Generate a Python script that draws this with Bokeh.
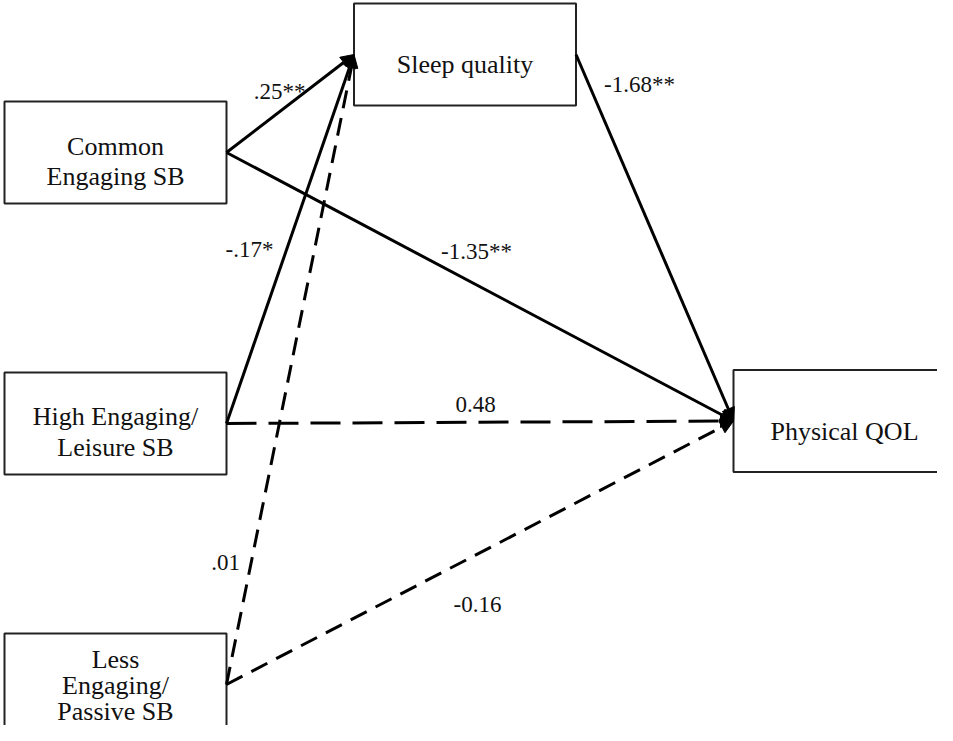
from bokeh.plotting import figure
from bokeh.models import Range1d, Arrow, NormalHead
from bokeh.core.properties import value
from bokeh.embed import file_html
from bokeh.resources import INLINE

# ---- data ----
node_names = ["Common\nEngaging SB", "High Engaging/\nLeisure SB",
              "Less\nEngaging/\nPassive SB", "Sleep quality", "Physical QOL"]
path_from = [0, 0, 1, 1, 2, 2, 3]
path_to = [3, 4, 3, 4, 3, 4, 4]
path_coef = [".25**", "-1.35**", "-.17*", "0.48", ".01", "-0.16", "-1.68**"]
path_significant = [True, True, True, False, False, False, True]

# ---- layout (pixel positions of the diagram) ----
node_cx = [123, 123, 123, 472.5, 852]
node_cy = [160, 431, 692, 62, 428.5]
box_w = 222
box_h = 102
text_cy = [162, 432.5, 686, 65, 432]
line_gap = [30, 31, 26, 30, 30]
label_x = [287, 484, 257, 483, 233, 485, 647]
label_y = [92, 252, 250, 405, 563, 605, 85]
dash_styles = {0: "solid", 1: "solid", 2: "solid", 3: "30 12",
               4: "18 10", 5: "18 10", 6: "solid"}

FONT = value("Liberation Serif")

p = figure(width=937, height=725, output_backend="svg", toolbar_location=None,
           x_range=Range1d(8, 945), y_range=Range1d(733, 8),
           x_axis_location=None, y_axis_location=None, min_border=0)
p.grid.visible = False
p.outline_line_color = None
p.background_fill_color = "white"
p.border_fill_color = "white"

# edges
for i, (a, b) in enumerate(zip(path_from, path_to)):
    xs = node_cx[a] + box_w / 2
    ys = node_cy[a]
    xe = node_cx[b] - box_w / 2
    ye = node_cy[b]
    p.add_layout(Arrow(x_start=xs, y_start=ys, x_end=xe, y_end=ye,
                       line_width=3, line_color="black",
                       line_dash=dash_styles[i],
                       end=NormalHead(size=13, fill_color="black",
                                      line_color="black", line_width=1)))

# boxes
p.quad(left=[c - box_w / 2 for c in node_cx],
       right=[c + box_w / 2 for c in node_cx],
       top=[c - box_h / 2 for c in node_cy],
       bottom=[c + box_h / 2 for c in node_cy],
       fill_color="white", line_color="#222222", line_width=2)

# node texts, one text per line
tx, ty, tt = [], [], []
for name, cx, cy, gap in zip(node_names, node_cx, text_cy, line_gap):
    lines = name.split("\n")
    n = len(lines)
    for k, ln in enumerate(lines):
        tx.append(cx)
        ty.append(cy + (k - (n - 1) / 2) * gap)
        tt.append(ln)
p.text(x=tx, y=ty, text=tt,
       text_font=FONT, text_font_size="26px", y_offset=7,
       text_align="center", text_baseline="middle", text_color="#111111")

# coefficient labels
p.text(x=label_x, y=label_y, text=path_coef,
       text_font=FONT, text_font_size="23px", y_offset=7,
       text_align="center", text_baseline="middle", text_color="#111111")

open("out.html", "w").write(file_html(p, INLINE))
